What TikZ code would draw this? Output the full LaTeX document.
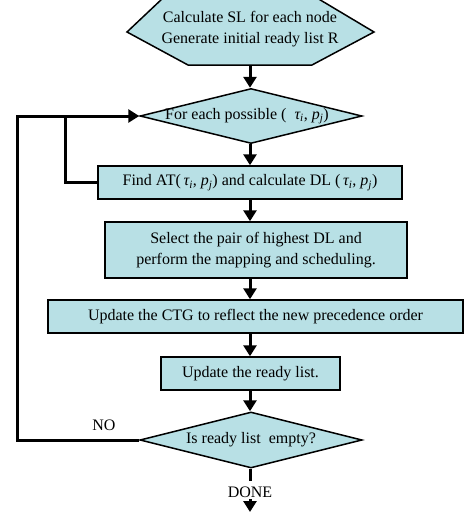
\documentclass[tikz,border=0pt]{standalone}
\usepackage{fontspec}
\setmainfont{Liberation Serif}
\usetikzlibrary{shapes.geometric,arrows.meta}
\definecolor{boxfill}{HTML}{B8E0E5}
\tikzset{
  procbox/.style={draw=black, line width=1.5pt, fill=boxfill, inner sep=0pt, align=center},
  decbox/.style={draw=black, line width=1.5pt, fill=boxfill, shape=diamond, inner sep=0pt, aspect=4.04},
  arr/.style={line width=3pt, -{Triangle[width=13pt,length=11pt]}},
  conn/.style={line width=3pt},
  lbl/.style={inner sep=0pt}
}
\begin{document}
\begin{tikzpicture}[x=1pt,y=-1pt,font=\fontsize{16}{21}\selectfont]
\useasboundingbox (0,0) rectangle (464,512);
% hexagon
\fill[boxfill] (127,32) -- (163,-2) -- (317,-2) -- (374,32) -- (312,65) -- (188,65) -- cycle;
\draw[line width=1.5pt] (163,-2) -- (127,32) -- (188,65) -- (312,65) -- (374,32) -- (317,-2);
\node[lbl, align=center] (hex) at (250,29) {Calculate SL for each node\\Generate initial ready list R};
\coordinate (hexb) at (250,65);
\coordinate (axis) at (250,0);
\coordinate (outer) at (17,0);
\coordinate (inner) at (65,0);
% shapes
\node[decbox, minimum width=222pt, minimum height=55pt] (d1) at (251,116) {};
\node[lbl] at (247,116) {For each possible (\,\,\,\textit{τ\textsubscript{i}}, \textit{p\textsubscript{j}})};
\node[procbox, minimum width=304pt, minimum height=33pt] (find) at (250,182.5)
  {Find AT(\,\textit{τ\textsubscript{i}}, \textit{p\textsubscript{j}}) and calculate DL (\,\textit{τ\textsubscript{i}}, \textit{p\textsubscript{j}})};
\node[procbox, minimum width=302pt, minimum height=56pt] (sel) at (256,250)
  {Select the pair of highest DL and\\perform the mapping and scheduling.};
\node[procbox, minimum width=415pt, minimum height=33pt] (ctg) at (255.5,316.5)
  {Update the CTG to reflect the new precedence order};
\node[procbox, minimum width=179pt, minimum height=33pt] (rdy) at (250.5,373.5)
  {Update the ready list.};
\node[decbox, minimum width=222pt, minimum height=56pt] (d2) at (251,440) {};
\node[lbl] at (251,440) {Is ready list\ \ empty?};
\node[lbl] (no) at (104,425) {NO};
\node[lbl] (done) at (250,492) {DONE};
\coordinate (end) at (250,512);
% connectors
\draw[arr] (hexb) -- (d1.north -| axis);
\draw[arr] (d1.south -| axis) -- (find.north -| axis);
\draw[arr] (find.south -| axis) -- (sel.north -| axis);
\draw[arr] (sel.south -| axis) -- (ctg.north -| axis);
\draw[arr] (ctg.south -| axis) -- (rdy.north -| axis);
\draw[arr] (rdy.south -| axis) -- (d2.north -| axis);
\draw[arr] (d2.west) -- (d2.west -| outer) -- (outer |- d1.west) -- (d1.west);
\draw[conn] (find.west) -- (find.west -| inner) -- (inner |- d1.west);
\draw[conn] (d2.south -| axis) -- ++(0,12);
\draw[arr] (250,499) -- (end);
\end{tikzpicture}
\end{document}
